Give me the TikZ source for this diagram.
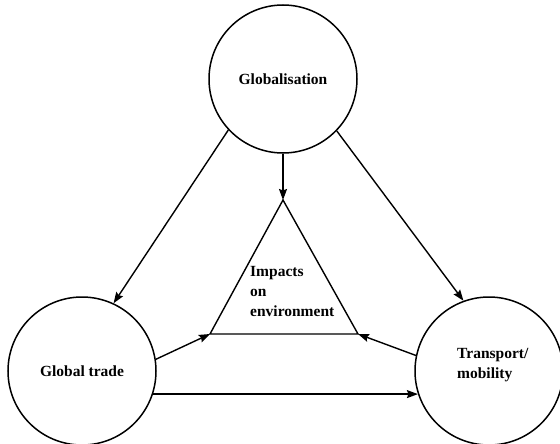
\documentclass[tikz,border=0pt]{standalone}
\usepackage{fontspec}
\setmainfont{Liberation Serif}
\usetikzlibrary{arrows.meta}
\begin{document}
\begin{tikzpicture}[x=1pt,y=-1pt,
  bub/.style={circle,draw,line width=1.5pt,minimum size=148pt,inner sep=0pt,
    font=\fontsize{15.5}{20}\selectfont\bfseries},
  lbl/.style={font=\fontsize{15.5}{20}\selectfont\bfseries,align=left,inner sep=0pt},
  arr/.style={line width=1.4pt,-{Stealth[length=11pt,width=8pt,inset=1.5pt]}},
  ln/.style={line width=1.4pt}]
\useasboundingbox (0,0) rectangle (560,444);
\node[bub] (glob) at (283,79) {Globalisation};
\node[bub] (trade) at (82,371) {Global trade};
\node[bub] (trans) at (489,371) {};
\node[lbl,anchor=north west] (translbl) at (457,348) {Transport/\\mobility};
\coordinate (apex) at (283,200);
\coordinate (bl) at (210,334);
\coordinate (br) at (358,334);
\draw[ln,line join=miter] (apex) -- (bl) -- (br) -- cycle;
\node[lbl,anchor=north west] (imp) at (250,266) {Impacts\\on\\environment};
\draw[arr] (glob.south) -- (apex);
\draw[arr] (glob.223) -- (trade.65);
\draw[arr] (glob.316) -- (trans.110);
\draw[arr] (trade.9) -- (bl);
\draw[arr] (trans.168) -- (br);
\draw[arr] (trade.-18) -- (trans.198);
\end{tikzpicture}
\end{document}
